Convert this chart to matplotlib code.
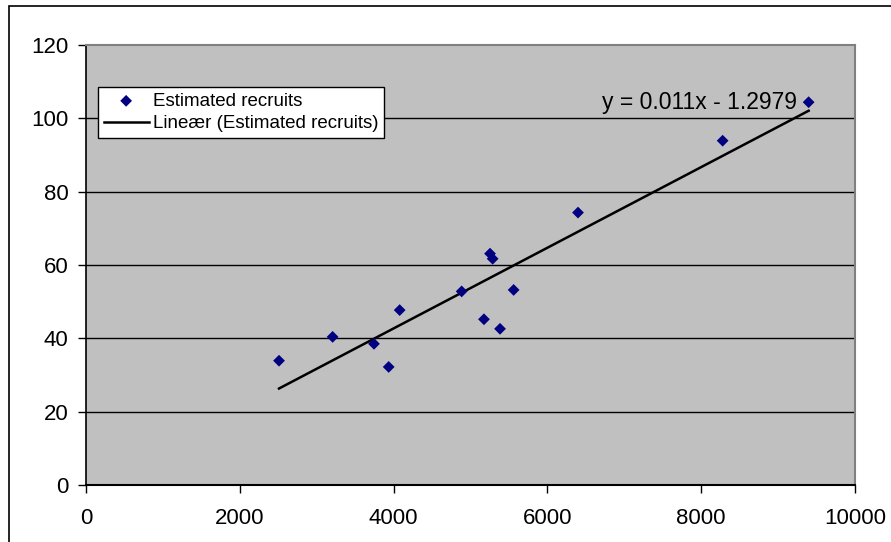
import matplotlib
matplotlib.use("Agg")
import matplotlib.pyplot as plt
from matplotlib.patches import Rectangle
import numpy as np

# Spawning stock vs. estimated recruits
stock = [2510, 3207, 3745, 3936, 4079, 4885, 5175, 5254, 5288, 5384, 5561, 6398, 8279, 9397]
recruits = [33.9, 40.4, 38.5, 32.2, 47.7, 52.8, 45.2, 63.1, 61.7, 42.6, 53.2, 74.3, 93.9, 104.4]

# Linear trend coefficients
slope = 0.011
intercept = -1.2979

x_ticks = [0, 2000, 4000, 6000, 8000, 10000]
y_ticks = [0, 20, 40, 60, 80, 100, 120]

plt.rcParams["font.family"] = ["Liberation Sans", "DejaVu Sans"]

W, H = 891, 542
fig = plt.figure(figsize=(W / 100, H / 100), dpi=100)
fig.patch.set_facecolor("white")

# Chart area frame (left and top edges visible)
fig.patches.append(Rectangle((9 / W, -0.2), 2.0, 1.2 - 6 / H,
                             transform=fig.transFigure, fill=False,
                             edgecolor="black", linewidth=1.2))

ax = fig.add_axes([86 / W, (H - 485) / H, (855 - 86) / W, 440 / H])
ax.set_facecolor("#C0C0C0")

for yv in y_ticks[1:-1]:
    ax.axhline(yv, color="black", linewidth=1.0, zorder=1)

ax.scatter(stock, recruits, marker="D", s=36, color="#000080",
           edgecolors="none", zorder=3, label="Estimated recruits")

xs = np.array([min(stock), max(stock)])
ax.plot(xs, slope * xs + intercept, color="black", linewidth=1.8,
        zorder=2, label="Lineær (Estimated recruits)")

ax.text(max(stock) - 150, 104.3, f"y = {slope}x - {abs(intercept)}",
        ha="right", va="center", fontsize=16.5, zorder=4)

ax.set_xlim(0, 10000)
ax.set_ylim(0, 120)
ax.set_xticks(x_ticks)
ax.set_yticks(y_ticks)
ax.tick_params(axis="both", direction="out", length=5.5, width=1.0,
               color="black", labelsize=16)
ax.tick_params(axis="y", pad=7)
ax.tick_params(axis="x", pad=11)

ax.spines["left"].set_color("black")
ax.spines["bottom"].set_color("black")
ax.spines["left"].set_linewidth(1.2)
ax.spines["bottom"].set_linewidth(1.5)
ax.spines["top"].set_color("#808080")
ax.spines["right"].set_color("#808080")
ax.spines["top"].set_linewidth(1.5)
ax.spines["right"].set_linewidth(1.5)

leg = ax.legend(loc="upper left", bbox_to_anchor=((98 - 86) / 769, (485 - 87) / 440),
                frameon=True, fancybox=False, framealpha=1, edgecolor="black",
                facecolor="white", fontsize=13.5, borderpad=0.3,
                labelspacing=0.3, handlelength=2.4, handletextpad=0.25,
                borderaxespad=0)
leg.get_frame().set_linewidth(1.0)

fig.savefig("out.png", dpi=100, facecolor="white")
